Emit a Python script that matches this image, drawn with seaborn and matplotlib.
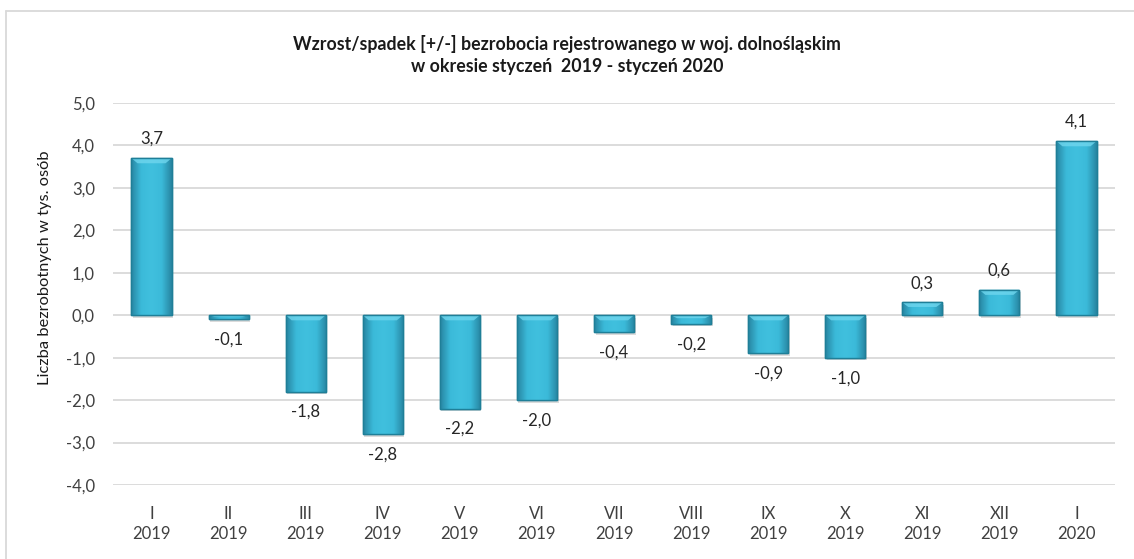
import matplotlib
matplotlib.use("Agg")
import matplotlib.pyplot as plt
import seaborn as sns
import pandas as pd
import numpy as np
from matplotlib.lines import Line2D
from matplotlib.colors import LinearSegmentedColormap

months = ["I", "II", "III", "IV", "V", "VI", "VII", "VIII", "IX", "X", "XI", "XII", "I"]
years = ["2019"] * 12 + ["2020"]
values = [3.7, -0.1, -1.8, -2.8, -2.2, -2.0, -0.4, -0.2, -0.9, -1.0, 0.3, 0.6, 4.1]
yticks = [-4, -3, -2, -1, 0, 1, 2, 3, 4, 5]

title = "Wzrost/spadek [+/-] bezrobocia rejestrowanego w woj. dolnośląskim\nw okresie styczeń  2019 - styczeń 2020"
ylabel = "Liczba bezrobotnych w tys. osób"

sns.set_theme(style="white")
plt.rcParams['font.family'] = ['Lato', 'DejaVu Sans']

labels = [f"{m}\n{y}" for m, y in zip(months, years)]

fig = plt.figure(figsize=(11.34, 5.59), dpi=100)
ax = fig.add_axes([113/1134, 1 - 485/559, (1115-113)/1134, (485-103)/559])

pos = list(range(len(values)))
df = pd.DataFrame({"pos": [str(i) for i in pos], "val": values})
sns.barplot(data=df, x="pos", y="val", ax=ax, color="#38B5D5", width=0.52,
            edgecolor="#1F7F98", linewidth=1.0, saturation=1, zorder=3)

ax.set_ylim(-4, 5)
ax.set_xlim(-0.5, len(values) - 0.5)

# gradient fill clipped to each bar (bevel-like look)
cmap = LinearSegmentedColormap.from_list("bev", ["#2784A0", "#3BBAD9", "#40C0DE", "#3BBAD9", "#2784A0"])
grad = np.linspace(0, 1, 256).reshape(1, -1)
for patch in list(ax.patches):
    x0, y0 = patch.get_x(), patch.get_y()
    w, h = patch.get_width(), patch.get_height()
    ylo, yhi = min(y0, y0 + h), max(y0, y0 + h)
    ax.add_patch(plt.Rectangle((x0 + 0.02, ylo - 0.06), w, yhi - ylo, facecolor="#9a9a9a",
                               alpha=0.35, edgecolor="none", zorder=2))
    im = ax.imshow(grad, extent=[x0, x0 + w, ylo, yhi], aspect="auto", cmap=cmap,
                   zorder=3.5, interpolation="bicubic")
    im.set_clip_path(patch)
    bev = min(0.12, (yhi - ylo) * 0.35)
    ax.add_patch(plt.Polygon([(x0, yhi), (x0 + w, yhi), (x0 + w * 0.85, yhi - bev), (x0 + w * 0.15, yhi - bev)],
                             closed=True, facecolor="#6FD6EE", edgecolor="none", alpha=0.8, zorder=3.7))
    ax.add_patch(plt.Rectangle((x0, ylo), w, yhi - ylo, facecolor="none", edgecolor="#1F7F98",
                               linewidth=1.0, zorder=3.8))

ax.set_xlim(-0.5, len(values) - 0.5)
ax.set_ylim(-4, 5)
ax.set_yticks(yticks)
ax.set_yticklabels([f"{t:.1f}".replace(".", ",") for t in yticks], fontsize=12, color="#404040")
ax.set_xticks(pos)
ax.set_xticklabels(labels, fontsize=12, color="#404040", linespacing=1.35)
ax.tick_params(axis="y", length=0, pad=13)
ax.tick_params(axis="x", length=0, pad=15)
ax.set_xlabel("")
ax.set_ylabel("")
for s in ax.spines.values():
    s.set_visible(False)
ax.yaxis.grid(True, color="#D9D9D9", linewidth=1.3, zorder=0)
ax.set_axisbelow(True)

for i, v in enumerate(values):
    txt = f"{v:.1f}".replace(".", ",")
    if v >= 0:
        ax.annotate(txt, (i, v), xytext=(0, 8), textcoords="offset points",
                    ha="center", va="bottom", fontsize=12, color="#262626", zorder=5)
    else:
        ax.annotate(txt, (i, v), xytext=(0, -9), textcoords="offset points",
                    ha="center", va="top", fontsize=12, color="#262626", zorder=5)

fig.text(0.5, 1 - 55/559, title, ha="center", va="center", fontsize=12.8, fontweight="bold",
         color="#1a1a1a", linespacing=1.4)
fig.text(45/1134, 1 - 268/559, ylabel, rotation=90, ha="center", va="center", fontsize=11.8, color="#1a1a1a")

fig.add_artist(Line2D([6/1134, 6/1134], [0, 1 - 11/559], color="#D9D9D9", linewidth=1.3, transform=fig.transFigure))
fig.add_artist(Line2D([6/1134, 1], [1 - 11/559, 1 - 11/559], color="#D9D9D9", linewidth=1.3, transform=fig.transFigure))

fig.savefig("out.png", dpi=100, facecolor="white")
